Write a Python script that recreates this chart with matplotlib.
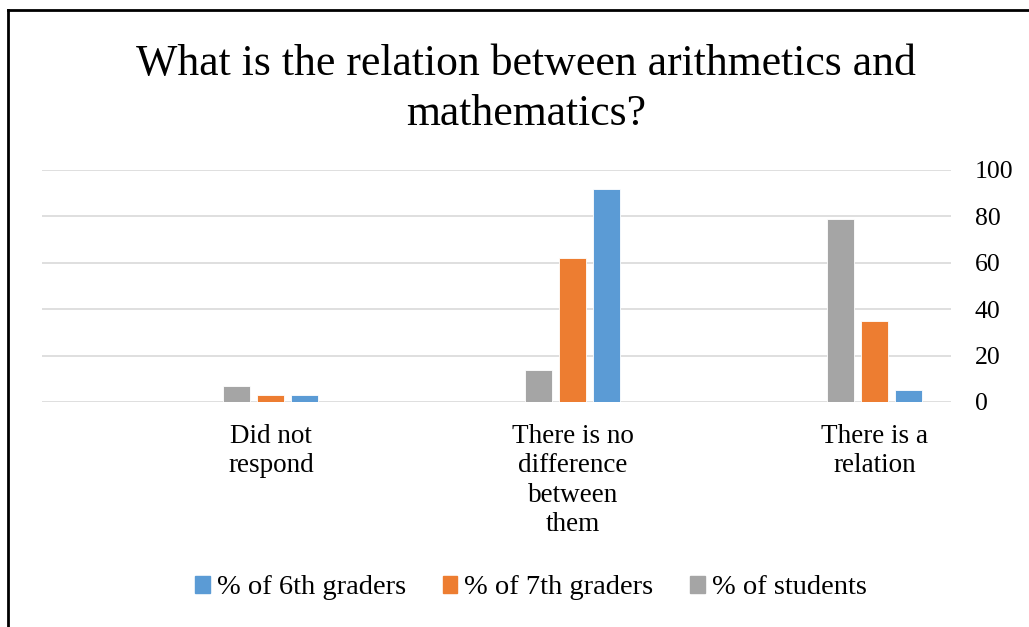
import numpy as np
import matplotlib.pyplot as plt
from matplotlib.lines import Line2D
from matplotlib.patches import Patch

categories = ['Did not\nrespond', 'There is no\ndifference\nbetween\nthem', 'There is a\nrelation']
sixth = [3, 92, 5]
seventh = [3, 62, 35]
students = [7, 14, 79]
series_names = ['% of 6th graders', '% of 7th graders', '% of students']
yticks = [0, 20, 40, 60, 80, 100]

blue = '#5B9BD5'
orange = '#ED7D31'
gray = '#A5A5A5'

plt.rcParams['font.family'] = ['Liberation Serif', 'DejaVu Serif']

fig = plt.figure(figsize=(10.29, 6.27), dpi=100)
ax = fig.add_axes([42/1029, 1-402/627, 909/1029, 232/627])

x = np.arange(len(categories))
w = 0.089
off = 0.1126
# bars appear students / 7th / 6th from left to right
ax.bar(x - off, students, w, color=gray, edgecolor='white', linewidth=0.6, zorder=3)
ax.bar(x, seventh, w, color=orange, edgecolor='white', linewidth=0.6, zorder=3)
ax.bar(x + off, sixth, w, color=blue, edgecolor='white', linewidth=0.6, zorder=3)

ax.set_xlim(-0.758, 2.252)
ax.set_ylim(0, 100)
ax.set_yticks(yticks)
ax.yaxis.tick_right()
ax.set_xticks(x)
ax.set_xticklabels(categories, fontsize=19.5, linespacing=1.22)
ax.tick_params(axis='x', length=0, pad=16)
ax.tick_params(axis='y', length=0, pad=17, labelsize=18.5)
for lab in ax.get_yticklabels():
    lab.set_horizontalalignment('left')
ax.grid(axis='y', color='#d9d9d9', linewidth=1.2, zorder=0)
for s in ax.spines.values():
    s.set_visible(False)

fig.text(526/1029, 1-89/627, 'What is the relation between arithmetics and\nmathematics?',
         ha='center', va='center', fontsize=31.5, linespacing=1.3)

handles = [Patch(color=blue), Patch(color=orange), Patch(color=gray)]
fig.legend(handles, series_names, loc='center', bbox_to_anchor=(531/1029, 1-588/627),
           ncol=3, frameon=False, fontsize=20.5, handlelength=0.5, handleheight=0.5,
           handletextpad=0.25, columnspacing=1.3)

# frame lines (left and top edges of the screenshot)
fig.add_artist(Line2D([8/1029, 8/1029], [0, 1-10/627], transform=fig.transFigure, color='black', linewidth=2))
fig.add_artist(Line2D([8/1029, 1], [1-10/627, 1-10/627], transform=fig.transFigure, color='black', linewidth=2))

fig.savefig('out.png', dpi=100)
